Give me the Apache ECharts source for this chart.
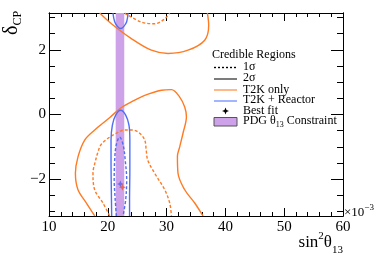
<!DOCTYPE html>
<html><head><meta charset="utf-8">
<script src="https://cdn.jsdelivr.net/npm/echarts@6/dist/echarts.min.js"></script>
<style>html,body{margin:0;padding:0;background:#fff}#c{width:381px;height:258px}</style>
</head><body><div id="c"></div>
<script>
// ---- data (x = sin^2(theta13) x 1e-3, y = delta_CP) ----
const xTicks = [10, 20, 30, 40, 50, 60];
const yTicks = [-2, 0, 2];
const yMinorTicks = [-3, -2.5, -1.5, -1, -0.5, 0.5, 1, 1.5, 2.5, 3];
const pdgBand = [21.34, 22.80];

const t2k2sLower = [[17.77,-3.14],[16.36,-2.74],[14.93,-2.33],[14.49,-1.82],[14.93,-1.31],[16.07,-0.79],[17.77,-0.48],[20.3,-0.1],[22.19,0.2],[24.01,0.39],[26.28,0.59],[29.12,0.75],[30.82,0.77],[32.23,0.54],[33.08,0.23],[33.37,-0.07],[32.79,-0.58],[32.23,-1.0],[31.84,-1.30],[31.94,-1.82],[33.08,-2.33],[34.78,-2.74],[36.19,-3.14]];
const t2k2sUpper = [[18.62,3.14],[20.61,2.81],[24.01,2.35],[27.41,1.99],[30.24,1.89],[33.64,1.99],[36.48,2.30],[37.16,2.76],[36.94,3.14]];
const t2k1sLower = [[20.32,-3.14],[19.18,-2.74],[17.77,-2.33],[17.48,-1.82],[17.94,-1.41],[18.33,-1.16],[18.79,-0.95],[19.64,-0.79],[21.17,-0.61],[22.87,-0.48],[24.23,-0.48],[25.42,-0.58],[26.28,-0.79],[26.53,-1.10],[26.79,-1.41],[27.98,-1.82],[29.68,-2.33],[30.53,-2.74],[30.82,-3.14]];
const t2k1sUpper = [[22.87,3.14],[25.71,2.86],[27.98,2.81],[29.68,2.96],[30.53,3.14]];
const comb2sLower = [[20.66,-3.14],[20.6,-2.33],[20.55,-1.41],[20.55,-0.79],[20.78,-0.33],[21.34,-0.02],[22.19,0.13],[23.04,-0.02],[23.6,-0.33],[23.75,-0.79],[23.75,-1.71],[23.7,-2.64],[23.7,-3.14]];
const comb2sUpper = [[20.88,3.14],[21.17,2.87],[21.68,2.72],[22.19,2.66],[22.70,2.72],[23.21,2.87],[23.44,3.14]];
const comb1s = [[21.46,-3.14],[21.26,-2.64],[21.09,-2.02],[21.17,-1.41],[21.43,-0.95],[22.02,-0.70],[22.62,-0.95],[22.96,-1.41],[23.21,-2.02],[23.04,-2.64],[22.59,-3.14]];
const bestFitT2K = [22.48, -2.25];
const bestFitComb = [22.14, -2.15];

const ORANGE = '#ff7a22', BLUE = '#4f6ef7', PURPLE = '#cda2e8';
const FONT = 'Liberation Serif';
const STAR = 'path://M0,-10 L3,-3 L10,0 L3,3 L0,10 L-3,3 L-10,0 L-3,-3 Z';

const ctx = document.createElement('canvas').getContext('2d');
function tw(t, s){ ctx.font = s + 'px "' + FONT + '"'; return ctx.measureText(t).width; }
// pieces: [text, size, baselineOffset]
function pieces(list, x0, base, align){
  const total = list.reduce((a,p)=>a+tw(p[0],p[1]),0);
  let x = align === 'right' ? x0 - total : x0;
  return list.map(p=>{
    const el = {type:'text', x:x, y: base + p[2] - 0.34*p[1],
      style:{text:p[0], fontSize:p[1], fontFamily:FONT, fill:'#000', textAlign:'left', align:'left', textVerticalAlign:'middle', verticalAlign:'middle'}};
    x += tw(p[0],p[1]);
    return el;
  });
}
function txt(t, x, y, s){
  return {type:'text', x:x, y:y, style:{text:t, fontSize:s||12, fontFamily:FONT, fill:'#000', textAlign:'left', align:'left', textVerticalAlign:'middle', verticalAlign:'middle'}};
}
function seg(x1,y1,x2,y2,color,dash){
  return {type:'line', shape:{x1,y1,x2,y2}, style:{stroke:color, lineWidth:1.4, lineDash: dash ? [2,2] : null}};
}

const chart = echarts.init(document.getElementById('c'), null, {renderer:'canvas'});

function lineSeries(data, color, dashed){
  return {type:'line', data:data, xAxisIndex:0, yAxisIndex:0, showSymbol:false, smooth:0.35, silent:true, z:3,
    lineStyle:{color:color, width:1.4, type: dashed ? [3,2] : 'solid'}};
}
const blk = {color:'#000', width:1};
function xAx(pos, showLabel){
  return {type:'value', min:10, max:60, interval:10, position:pos,
    axisLine:{show:true, onZero:false, lineStyle:blk},
    axisTick:{show:true, inside:true, length:8, lineStyle:blk},
    minorTick:{show:true, splitNumber:5, length:4, lineStyle:blk},
    axisLabel:{show:showLabel, margin:4, fontSize:15, fontFamily:FONT, color:'#000', showMinLabel:true, showMaxLabel:true},
    splitLine:{show:false}, minorSplitLine:{show:false}};
}
function yAx(pos, ticks, len, showLabel){
  return {type:'value', min:-Math.PI, max:Math.PI, position:pos,
    axisLine:{show:true, onZero:false, lineStyle:blk},
    axisTick:{show:true, inside:true, length:len, customValues:ticks, lineStyle:blk},
    axisLabel:{show:showLabel, customValues:ticks, margin:3, fontSize:15, fontFamily:FONT, color:'#000',
      formatter:v=> v < 0 ? '\u2212' + Math.abs(v) : String(v)},
    splitLine:{show:false}};
}

const lx = 214, lx2 = 237, tx = 243;
const starPts = [[0,-3.5],[1,-1],[3.5,0],[1,1],[0,3.5],[-1,1],[-3.5,0],[-1,-1]].map(p=>[p[0]+225.5, p[1]+111]);
const graphics = [
  txt('Credible Regions', 212, 55),
  seg(lx,67.5,lx2,67.5,'#000',true), txt('1\u03c3', tx, 66.5),
  seg(lx,79,lx2,79,'#444',false), txt('2\u03c3', tx, 78),
  seg(lx,90,lx2,90,'#ff9a55',false), txt('T2K only', tx, 89.5),
  seg(lx,101,lx2,101,'#7a95ff',false), txt('T2K + Reactor', tx, 100),
  {type:'polygon', shape:{points:starPts}, style:{fill:'#000'}},
  txt('Best fit', tx, 110.5),
  {type:'rect', shape:{x:lx, y:117.5, width:23, height:8.5}, style:{fill:PURPLE, stroke:'#555', lineWidth:1}},
].concat(pieces([['PDG \u03b8',12,0],['13',8,2.5],[' Constraint',12,0]], tx, 125, 'left'))
 .concat(pieces([['sin',17,0],['2',11,-8],['\u03b8',17,0],['13',11,6]], 343, 248, 'right'))
 .concat(pieces([['\u00d710',13,0],['\u22123',9,-6]], 344, 217, 'left'))
 .concat([{type:'group', x:19, y:35, rotation:Math.PI/2, children: pieces([['\u03b4',20,0],['CP',12,3]], 0, 0, 'left')}]);

chart.setOption({
  animation:false,
  backgroundColor:'#fff',
  grid:{left:49, right:38, top:13, bottom:42, containLabel:false},
  xAxis:[xAx('bottom', true), xAx('top', false)],
  yAxis:[yAx('left', yTicks, 12, true), yAx('left', yMinorTicks, 6, false), yAx('right', yTicks, 12, false), yAx('right', yMinorTicks, 6, false)],
  series:[
    {type:'custom', xAxisIndex:0, yAxisIndex:0, data:[pdgBand], z:1, silent:true,
     renderItem:(params, api)=>{
       const p1 = api.coord([api.value(0), Math.PI]);
       const p2 = api.coord([api.value(1), -Math.PI]);
       return {type:'rect', shape:{x:p1[0], y:p1[1], width:p2[0]-p1[0], height:p2[1]-p1[1]}, style:{fill:PURPLE}};
     }},
    lineSeries(t2k2sLower, ORANGE, false),
    lineSeries(t2k2sUpper, ORANGE, false),
    lineSeries(t2k1sLower, ORANGE, true),
    lineSeries(t2k1sUpper, ORANGE, true),
    lineSeries(comb2sLower, BLUE, false),
    lineSeries(comb2sUpper, BLUE, false),
    lineSeries(comb1s, BLUE, true),
    {type:'scatter', data:[bestFitComb], symbol:STAR, symbolSize:7, itemStyle:{color:'#5560ee'}, z:4, silent:true},
    {type:'scatter', data:[bestFitT2K], symbol:STAR, symbolSize:7, itemStyle:{color:'#ee5533'}, z:4, silent:true}
  ],
  graphic: graphics
});
</script>
</body></html>
